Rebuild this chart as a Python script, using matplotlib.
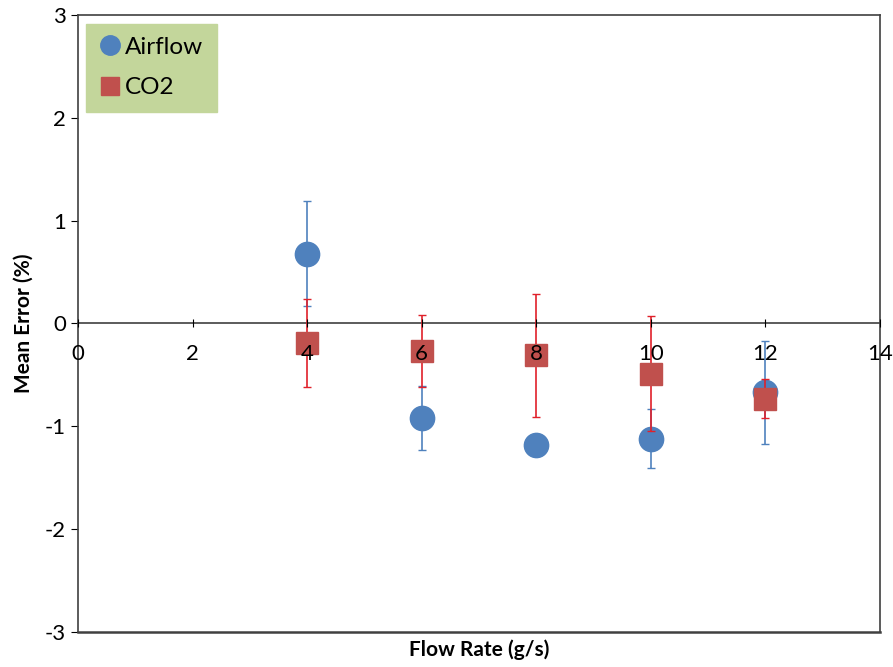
import numpy as np
import matplotlib.pyplot as plt

# flow rate (g/s) and mean error (%)
flow = [4, 6, 8, 10, 12]
airflow_err = [0.68, -0.92, -1.18, -1.12, -0.67]
airflow_sd = [0.51, 0.31, 0.0, 0.29, 0.50]
co2_err = [-0.19, -0.27, -0.31, -0.49, -0.73]
co2_sd = [0.43, 0.35, 0.60, 0.56, 0.19]

xticks = [0, 2, 4, 6, 8, 10, 12, 14]
yticks = [-3, -2, -1, 0, 1, 2, 3]

plt.rcParams['font.family'] = ['Lato', 'DejaVu Sans']
plt.rcParams['axes.unicode_minus'] = False

fig = plt.figure(figsize=(8.93, 6.67), dpi=100)
ax = fig.add_axes([0.0873, 0.0525, 0.8982, 0.925])

ax.errorbar(flow, airflow_err, yerr=airflow_sd, fmt='none',
            ecolor='#4f81bd', elinewidth=1.2, capsize=3, zorder=2)
ax.plot(flow, airflow_err, 'o', color='#4f81bd', markersize=17.5,
        label='Airflow', zorder=3)
ax.errorbar(flow, co2_err, yerr=co2_sd, fmt='none',
            ecolor='#e0202a', elinewidth=1.2, capsize=3, zorder=4)
ax.plot(flow, co2_err, 's', color='#c0504d', markersize=16.5,
        label='CO2', zorder=5)

ax.set_xlim(0, 14)
ax.set_ylim(-3, 3)
ax.set_yticks(yticks)
ax.set_xticks(xticks)
ax.tick_params(axis='y', labelsize=16, direction='out', length=5)
ax.tick_params(axis='x', labelsize=16, direction='inout', length=6, pad=12)
for s in ax.spines.values():
    s.set_color('#404040')
    s.set_linewidth(1.2)

# x axis crosses at zero, like the spreadsheet chart; frame line stays at -3
ax.spines['bottom'].set_position(('data', 0))
ax.axhline(-3, color='#404040', linewidth=1.8, clip_on=False, zorder=6)
ax.xaxis.set_zorder(10)

ax.set_xlabel('Flow Rate (g/s)', fontsize=15, fontweight='bold')
ax.xaxis.set_label_coords(0.5, -0.012)
ax.set_ylabel('Mean Error (%)', fontsize=15, fontweight='bold', labelpad=8)

ax.legend(loc='upper left', fontsize=17.5, frameon=True, fancybox=False,
          facecolor='#c3d69b', edgecolor='#c3d69b', framealpha=1,
          handletextpad=0.25, handlelength=0.8, labelspacing=0.8,
          borderaxespad=0.35, borderpad=0.55, markerscale=0.8)

fig.savefig('out.png', dpi=100)
